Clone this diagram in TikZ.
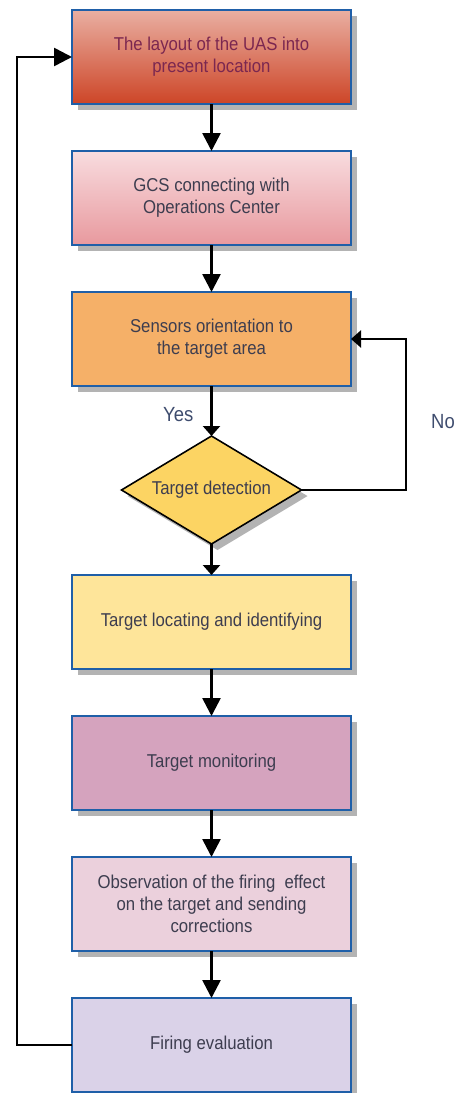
\documentclass[tikz,border=0pt]{standalone}
\usepackage{fontspec}
\setmainfont{Liberation Sans}[FakeStretch=0.9]
\usepackage{tikz}
\usetikzlibrary{positioning, arrows.meta, shapes.geometric, shadows}

\definecolor{borderblue}{HTML}{1F5FA8}
\definecolor{shadowgray}{HTML}{B3B3B3}
\definecolor{textgray}{HTML}{3D3D4F}
\definecolor{textmaroon}{HTML}{7B2750}
\definecolor{labelblue}{HTML}{3E4C6E}
\definecolor{layouttop}{HTML}{E9AFA2}
\definecolor{layoutbot}{HTML}{CD4527}
\definecolor{gcstop}{HTML}{F8DCDF}
\definecolor{gcsbot}{HTML}{E8999E}
\definecolor{sensorfill}{HTML}{F5B068}
\definecolor{detectfill}{HTML}{FCD463}
\definecolor{locatefill}{HTML}{FEE59A}
\definecolor{monitorfill}{HTML}{D5A3BE}
\definecolor{observefill}{HTML}{EBD0DC}
\definecolor{firingfill}{HTML}{DAD2E8}

\tikzset{
    stage/.style={rectangle, draw=borderblue, line width=2.6pt, outer sep=0pt,
        minimum width=279pt, minimum height=94pt, inner sep=0pt,
        align=center, text=textgray, font=\fontsize{18.6}{22}\selectfont,
        drop shadow={shadow xshift=6pt, shadow yshift=-6pt, fill=shadowgray, opacity=1}},
    decision/.style={diamond, aspect=1.667, draw=black, line width=1.6pt, outer sep=0pt,
        fill=detectfill, minimum width=180pt, minimum height=108pt, inner sep=0pt,
        text=textgray, font=\fontsize{18.6}{22}\selectfont,
        drop shadow={shadow xshift=6pt, shadow yshift=-6pt, fill=shadowgray, opacity=1}},
    link/.style={draw=black, line width=2.6pt, -{Triangle[length=18pt,width=18pt]}},
    shortlink/.style={draw=black, line width=2.4pt, -{Triangle[length=10pt,width=17pt]}},
    answer/.style={inner sep=0pt, text=labelblue, font=\fontsize{20.5}{24}\selectfont}
}

\begin{document}
\begin{tikzpicture}
    \useasboundingbox (0pt,0pt) rectangle (455pt,-1093pt);

    \node[stage, top color=layouttop, bottom color=layoutbot, text=textmaroon] (layout) at (211.5pt,-57pt)
        {The layout of the UAS into\\present location};
    \node[stage, top color=gcstop, bottom color=gcsbot, below=47pt of layout] (gcs)
        {GCS connecting with\\Operations Center};
    \node[stage, fill=sensorfill, below=47pt of gcs] (sensors)
        {Sensors orientation to\\the target area};
    \node[decision, below=50pt of sensors] (detect) {Target detection};
    \node[stage, fill=locatefill, below=31pt of detect] (locate)
        {Target locating and identifying};
    \node[stage, fill=monitorfill, below=47pt of locate] (monitor)
        {Target monitoring};
    \node[stage, fill=observefill, below=47pt of monitor] (observe)
        {Observation of the firing\ \ effect\\on the target and sending\\corrections};
    \node[stage, fill=firingfill, below=47pt of observe] (firing)
        {Firing evaluation};

    \draw[link] (layout) -- (gcs);
    \draw[link] (gcs) -- (sensors);
    \draw[shortlink] (sensors) -- node[answer, pos=0.58, left=17pt] {Yes} (detect);
    \draw[shortlink] (detect) -- (locate);
    \draw[link] (locate) -- (monitor);
    \draw[link] (monitor) -- (observe);
    \draw[link] (observe) -- (firing);

    % loop back when nothing is found
    \draw[shortlink] (detect.east) -| ([xshift=55pt]sensors.east)
        node[answer, pos=0.727, right=24pt] {No} -- (sensors.east);
    % loop back to the start
    \draw[link] (firing.west) -| ([xshift=-55pt]layout.west) -- (layout.west);
\end{tikzpicture}
\end{document}
